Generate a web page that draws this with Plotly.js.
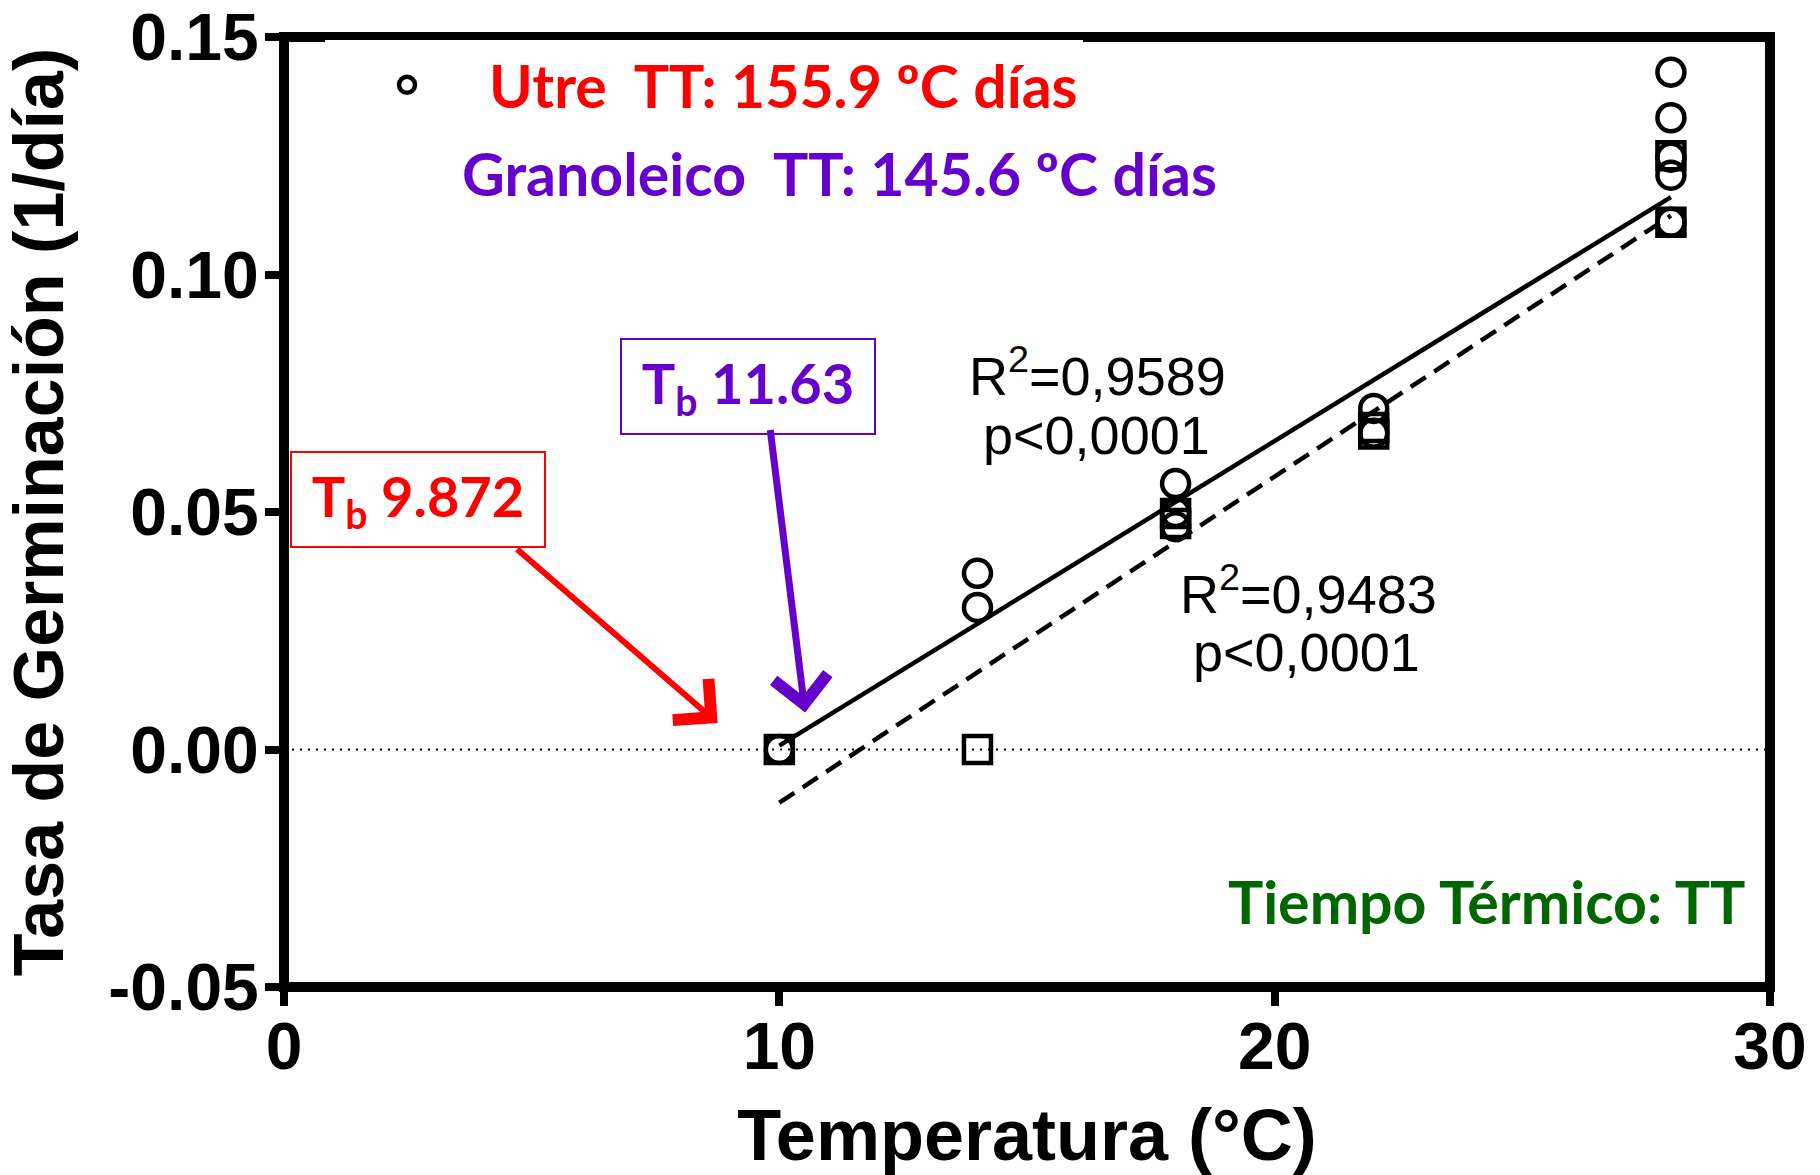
<!DOCTYPE html>
<html>
<head>
<meta charset="utf-8">
<script src="https://cdn.plot.ly/plotly-3.0.1.min.js"></script>
<style>html,body{margin:0;padding:0;background:#fff;}#chart{width:1820px;height:1175px;}</style>
</head>
<body>
<div id="chart"></div>
<script>
// ---- data ----
const utreTemp = [10, 14, 14, 18, 18, 18, 22, 22, 28, 28, 28, 28, 28];
const utreRate = [0.000, 0.0371, 0.0299, 0.0560, 0.0499, 0.0469, 0.0718, 0.0666, 0.1426, 0.1330, 0.1247, 0.1209, 0.1110];
const granTemp = [10, 14, 18, 18, 22, 22, 28, 28];
const granRate = [0.000, 0.000, 0.0497, 0.0476, 0.0678, 0.0664, 0.1250, 0.1110];
const fitTemp = [10, 28];
const utreFit = [0.0008, 0.1163];
const granFit = [-0.0112, 0.1124];
const xTickVals = [0, 10, 20, 30];
const xTickText = ['0', '10', '20', '30'];
const yTickVals = [-0.05, 0, 0.05, 0.10, 0.15];
const yTickText = ['-0.05', '0.00', '0.05', '0.10', '0.15'];
const utreLabel = 'Utre\u00a0 TT: 155.9 ºC días';
const granLabel = 'Granoleico\u00a0 TT: 145.6 ºC días';
const utreTb = 'T<sub>b</sub> 9.872';
const granTb = 'T<sub>b</sub> 11.63';

const ARIAL = 'Liberation Sans, Arial, sans-serif';
const CALIBRI = 'Lato, Calibri, sans-serif';
const RED = '#FF0000', PURPLE = '#6600CC', GREEN = '#006600';

const traces = [
  {x: fitTemp, y: granFit, mode: 'lines', showlegend: false, hoverinfo: 'skip',
   line: {color: 'black', width: 4.5, dash: '18px,10px'}},
  {x: fitTemp, y: utreFit, mode: 'lines', showlegend: false, hoverinfo: 'skip',
   line: {color: 'black', width: 4.5}},
  {x: granTemp, y: granRate, mode: 'markers', name: granLabel, showlegend: false,
   marker: {symbol: 'square-open', size: 27, color: 'black', line: {width: 4.5, color: 'black'}}},
  {x: utreTemp, y: utreRate, mode: 'markers', name: '<span style="color:' + RED + '">' + utreLabel + '</span>', showlegend: true,
   marker: {symbol: 'circle-open', size: 27, color: 'black', line: {width: 4.5, color: 'black'}}}
];

const L = 284, R = 50, T = 37, B = 188;
const W = 1820 - L - R, H = 1175 - T - B;
const px = v => (v - L) / W;
const py = v => (1175 - B - v) / H;

const layout = {
  width: 1820, height: 1175,
  margin: {l: L, r: R, t: T, b: B, pad: 0},
  paper_bgcolor: 'white', plot_bgcolor: 'white',
  showlegend: true,
  legend: {x: px(325), y: py(40), xanchor: 'left', yanchor: 'top', bgcolor: 'white', borderwidth: 0,
    itemwidth: 154, font: {family: CALIBRI, size: 59, weight: 700, color: RED}},
  xaxis: {range: [0, 30], tickmode: 'array', tickvals: xTickVals, ticktext: xTickText,
    ticks: 'outside', ticklen: 18, tickwidth: 8, tickcolor: 'black', ticklabelstandoff: -16,
    showline: false, showgrid: false, zeroline: false,
    tickfont: {family: ARIAL, size: 66, weight: 700, color: 'black'},
    title: {text: 'Temperatura (°C)', font: {family: ARIAL, size: 72, weight: 700, color: 'black'}, standoff: 30}},
  yaxis: {range: [-0.05, 0.15], tickmode: 'array', tickvals: yTickVals, ticktext: yTickText,
    ticks: 'outside', ticklen: 18, tickwidth: 8, tickcolor: 'black', ticklabelstandoff: -7,
    showline: false, showgrid: false, zeroline: false,
    tickfont: {family: ARIAL, size: 66, weight: 700, color: 'black'},
    title: {text: 'Tasa de Germinación (1/día)', font: {family: ARIAL, size: 70, weight: 700, color: 'black'}, standoff: 24}},
  shapes: [
    {type: 'line', xref: 'paper', x0: 0, x1: 1, yref: 'y', y0: 0, y1: 0, layer: 'below',
     line: {color: 'black', width: 2, dash: '2px,6px'}},
    {type: 'rect', xref: 'paper', yref: 'paper', x0: 0, x1: 1, y0: 0, y1: 1, layer: 'above',
     fillcolor: 'rgba(0,0,0,0)', line: {color: 'black', width: 10}}
  ],
  annotations: [
    {xref: 'paper', yref: 'paper', x: px(460), y: py(173), xanchor: 'left', yanchor: 'middle', showarrow: false,
     text: granLabel, font: {family: CALIBRI, size: 59, weight: 700, color: PURPLE}},
    {xref: 'paper', yref: 'paper', x: px(418), y: py(499.5), xanchor: 'center', yanchor: 'middle', showarrow: false,
     text: utreTb, width: 252, height: 93, borderpad: 0, borderwidth: 2, bordercolor: RED, bgcolor: 'white',
     font: {family: CALIBRI, size: 56, weight: 700, color: RED}},
    {xref: 'paper', yref: 'paper', x: px(748), y: py(386.5), xanchor: 'center', yanchor: 'middle', showarrow: false,
     text: granTb, width: 252, height: 93, borderpad: 0, borderwidth: 2, bordercolor: PURPLE, bgcolor: 'white',
     font: {family: CALIBRI, size: 56, weight: 700, color: PURPLE}},
    {xref: 'x', yref: 'y', x: 8.754, y: 0.0056, ax: -202, ay: -175, text: '', showarrow: true,
     arrowcolor: RED, arrowwidth: 6, arrowhead: 4, arrowsize: 1.75},
    {xref: 'x', yref: 'y', x: 10.52, y: 0.0078, ax: -35, ay: -284, text: '', showarrow: true,
     arrowcolor: PURPLE, arrowwidth: 7, arrowhead: 4, arrowsize: 1.5},
    {xref: 'paper', yref: 'paper', x: px(1097), y: py(372), xanchor: 'center', yanchor: 'middle', showarrow: false,
     text: 'R<sup>2</sup>=0,9589', font: {family: ARIAL, size: 54, color: 'black'}},
    {xref: 'paper', yref: 'paper', x: px(1096), y: py(435), xanchor: 'center', yanchor: 'middle', showarrow: false,
     text: 'p&lt;0,0001', font: {family: ARIAL, size: 54, color: 'black'}},
    {xref: 'paper', yref: 'paper', x: px(1308), y: py(590), xanchor: 'center', yanchor: 'middle', showarrow: false,
     text: 'R<sup>2</sup>=0,9483', font: {family: ARIAL, size: 54, color: 'black'}},
    {xref: 'paper', yref: 'paper', x: px(1306), y: py(651.5), xanchor: 'center', yanchor: 'middle', showarrow: false,
     text: 'p&lt;0,0001', font: {family: ARIAL, size: 54, color: 'black'}},
    {xref: 'paper', yref: 'paper', x: px(1748), y: py(901), xanchor: 'right', yanchor: 'middle', showarrow: false,
     text: 'Tiempo Térmico: TT', font: {family: CALIBRI, size: 59, weight: 700, color: GREEN}}
  ]
};

Plotly.newPlot('chart', traces, layout, {displayModeBar: false, staticPlot: true});
</script>
</body>
</html>
